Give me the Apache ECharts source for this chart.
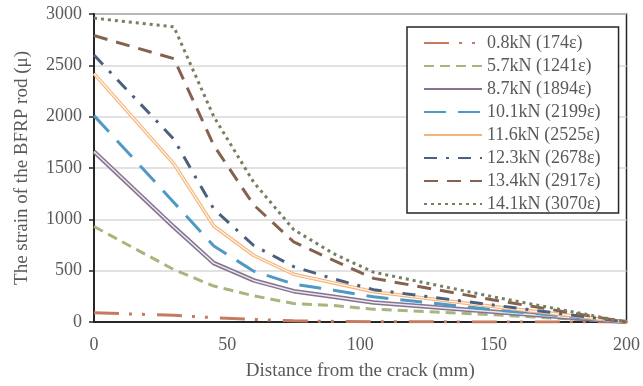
<!DOCTYPE html>
<html>
<head>
<meta charset="utf-8">
<script src="https://cdn.jsdelivr.net/npm/echarts@6/dist/echarts.min.js"></script>
<style>
  html, body { margin: 0; padding: 0; background: #fff; }
  #chart { width: 643px; height: 386px; }
</style>
</head>
<body>
<div id="chart"></div>
<script>
// distance from the crack (mm)
const distance = [0, 30, 45, 60, 75, 90, 105, 150, 200]

const loadNames = [
  '0.8kN (174ε)', '5.7kN (1241ε)', '8.7kN (1894ε)', '10.1kN (2199ε)',
  '11.6kN (2525ε)', '12.3kN (2678ε)', '13.4kN (2917ε)', '14.1kN (3070ε)'
]

// strain (μ)
const strain08 = [90, 65, 42, 25, 12, 6, 3, 0, 0]
const strain57 = [930, 510, 350, 255, 180, 160, 125, 70, 0]
const strain87 = [1660, 925, 574, 405, 300, 245, 190, 100, 0]
const strain101 = [2010, 1165, 740, 495, 370, 310, 245, 120, 0]
const strain116 = [2420, 1540, 935, 648, 465, 380, 295, 150, 0]
const strain123 = [2600, 1780, 1100, 745, 540, 420, 315, 165, 0]
const strain134 = [2790, 2565, 1720, 1140, 780, 600, 425, 215, 0]
const strain141 = [2960, 2875, 2000, 1360, 900, 665, 485, 245, 0]

const xTicks = [0, 50, 100, 150, 200]
const yTicks = [0, 500, 1000, 1500, 2000, 2500, 3000]

const allStrain = [strain08, strain57, strain87, strain101, strain116, strain123, strain134, strain141]

const styles = [
  { color: '#c47b5f', width: 3, type: [25, 10, 3, 10, 3, 12] },
  { color: '#a8b67e', width: 3, type: [10, 6] },
  { color: '#85748f', width: 4.5, type: 'solid' },
  { color: '#4e9ac4', width: 3, type: [22, 12] },
  { color: '#f5b57a', width: 3.5, type: 'solid' },
  { color: '#4d5f7e', width: 3, type: [13, 9, 3, 9] },
  { color: '#87614f', width: 3, type: [14, 9] },
  { color: '#787f5f', width: 3, type: [3, 4] }
]

const pairs = arr => distance.map((d, i) => [d, arr[i]])

const series = allStrain.map((arr, i) => ({
  name: loadNames[i],
  type: 'line',
  data: pairs(arr),
  symbol: 'none',
  z: 2 + i,
  lineStyle: { color: styles[i].color, width: styles[i].width, type: styles[i].type },
  itemStyle: { color: styles[i].color }
}))

// light centre of the double lines (8.7kN, 11.6kN)
series.push({
  type: 'line', data: pairs(strain87), symbol: 'none', silent: true, z: 4,
  lineStyle: { color: '#ece6f0', width: 1.5 }
})
series.push({
  type: 'line', data: pairs(strain116), symbol: 'none', silent: true, z: 6,
  lineStyle: { color: '#fff3e6', width: 1.3 }
})

const textColor = '#595959'
const font = 'Liberation Serif'

const chart = echarts.init(document.getElementById('chart'), null, { renderer: 'canvas' })
chart.setOption({
  animation: false,
  backgroundColor: '#fff',
  grid: {
    left: 94, right: 15, top: 14, bottom: 62,
    show: true, borderColor: '#262626', borderWidth: 1.5, backgroundColor: 'transparent'
  },
  legend: {
    data: loadNames,
    orient: 'vertical',
    left: 407,
    top: 27,
    padding: [7, 18, 0, 16],
    itemWidth: 58,
    itemHeight: 14,
    itemGap: 5,
    borderColor: '#262626',
    borderWidth: 1.5,
    backgroundColor: '#fff',
    itemStyle: { opacity: 0 },
    textStyle: { fontFamily: font, fontSize: 18, lineHeight: 18, color: textColor }
  },
  xAxis: {
    type: 'value',
    min: xTicks[0],
    max: xTicks[xTicks.length - 1],
    interval: 50,
    name: 'Distance from the crack (mm)',
    nameLocation: 'middle',
    nameGap: 40,
    nameTextStyle: { fontFamily: font, fontSize: 19, color: textColor },
    axisLine: { show: true, lineStyle: { color: '#262626', width: 2 } },
    axisTick: { show: false },
    splitLine: { show: false },
    axisLabel: { margin: 14, fontFamily: font, fontSize: 18, color: textColor }
  },
  yAxis: {
    type: 'value',
    min: yTicks[0],
    max: yTicks[yTicks.length - 1],
    interval: 500,
    name: 'The strain of the BFRP rod (μ)',
    nameLocation: 'middle',
    nameGap: 62,
    nameTextStyle: { fontFamily: font, fontSize: 19, color: textColor },
    axisLine: { show: true, lineStyle: { color: '#262626', width: 2 } },
    axisTick: { show: true, inside: false, length: 5, lineStyle: { color: '#262626', width: 1.5 } },
    splitLine: { show: true, lineStyle: { color: '#d9d9d9', width: 1.5 } },
    axisLabel: { margin: 12, fontFamily: font, fontSize: 18, color: textColor, formatter: v => String(v) }
  },
  series: series
})
</script>
</body>
</html>
